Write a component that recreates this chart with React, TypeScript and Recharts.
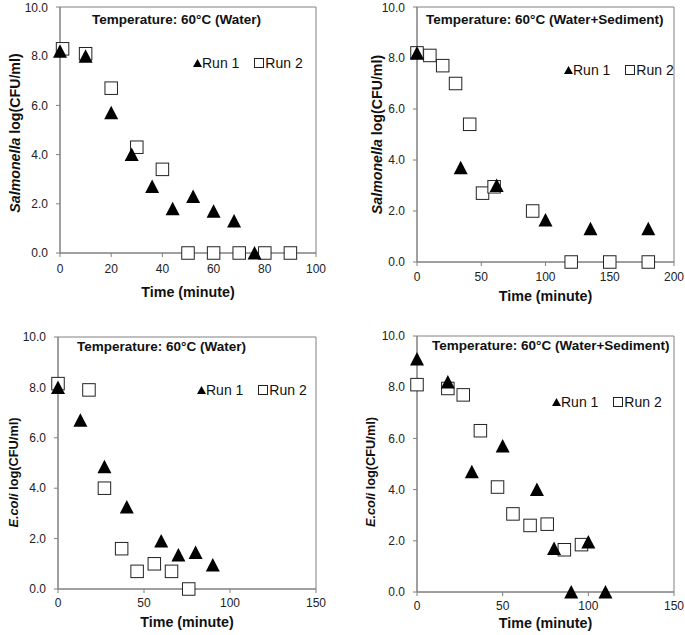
import React from "react";
import {
  ScatterChart,
  Scatter,
  XAxis,
  YAxis,
  ReferenceArea,
  Label,
} from "recharts";

const FONT = "'Liberation Sans', Arial, sans-serif";
const AXIS = "#808080";

// Salmonella, water
const salWaterRun1X = [0, 10, 20, 28, 36, 44, 52, 60, 68, 76];
const salWaterRun1Y = [8.2, 8.0, 5.7, 4.0, 2.7, 1.8, 2.3, 1.7, 1.3, 0];
const salWaterRun2X = [1, 10, 20, 30, 40, 50, 60, 70, 80, 90];
const salWaterRun2Y = [8.3, 8.1, 6.7, 4.3, 3.4, 0, 0, 0, 0, 0];

// Salmonella, water + sediment
const salSedRun1X = [0, 34, 62, 100, 135, 180];
const salSedRun1Y = [8.2, 3.7, 3.0, 1.65, 1.3, 1.3];
const salSedRun2X = [0, 10, 20, 30, 41, 51, 60, 90, 120, 150, 180];
const salSedRun2Y = [8.2, 8.1, 7.7, 7.0, 5.4, 2.7, 2.95, 2.0, 0, 0, 0];

// E.coli, water
const ecoWaterRun1X = [0, 13, 27, 40, 60, 70, 80, 90];
const ecoWaterRun1Y = [8.0, 6.7, 4.85, 3.25, 1.9, 1.35, 1.45, 0.95];
const ecoWaterRun2X = [0, 18, 27, 37, 46, 56, 66, 76];
const ecoWaterRun2Y = [8.15, 7.9, 4.0, 1.6, 0.7, 1.0, 0.7, 0];

// E.coli, water + sediment
const ecoSedRun1X = [0, 18, 32, 50, 70, 80, 90, 100, 110];
const ecoSedRun1Y = [9.1, 8.2, 4.7, 5.7, 4.0, 1.7, 0, 1.95, 0];
const ecoSedRun2X = [0, 18, 27, 37, 47, 56, 66, 76, 86, 96];
const ecoSedRun2Y = [8.1, 7.95, 7.7, 6.3, 4.1, 3.05, 2.6, 2.65, 1.65, 1.85];

const yTicks = [0, 2, 4, 6, 8, 10];
const xTicks100 = [0, 20, 40, 60, 80, 100];
const xTicks200 = [0, 50, 100, 150, 200];
const xTicks150 = [0, 50, 100, 150];

const toPoints = (xs: number[], ys: number[]) =>
  xs.map((x, i) => ({ x, y: ys[i] }));

const Triangle = (props: any) => {
  const { cx, cy } = props;
  if (cx == null || cy == null) return null;
  return (
    <polygon
      points={`${cx},${cy - 7} ${cx + 7},${cy + 6.5} ${cx - 7},${cy + 6.5}`}
      fill="#000"
    />
  );
};

const Square = (props: any) => {
  const { cx, cy } = props;
  if (cx == null || cy == null) return null;
  return (
    <rect
      x={cx - 6.25}
      y={cy - 6.25}
      width={12.5}
      height={12.5}
      fill="#fff"
      stroke="#222"
      strokeWidth={1}
    />
  );
};

interface PanelProps {
  left: number;
  top: number;
  plotLeft: number;
  plotTop: number;
  plotRight: number;
  plotBottom: number;
  xMax: number;
  xTicks: number[];
  xTickMargin: number;
  xLabelDy: number;
  yLabelDx: number;
  yLabelDy: number;
  yLabelSize: number;
  organism: string;
  title: string;
  titleX: number;
  titleY: number;
  legendX: number;
  legendY: number;
  run1: { x: number; y: number }[];
  run2: { x: number; y: number }[];
}

function Panel(p: PanelProps) {
  const W = 340;
  const H = 315;
  const xAxisH = 40;
  const margin = {
    top: p.plotTop,
    right: W - p.plotRight,
    left: 0,
    bottom: H - p.plotBottom - xAxisH,
  };
  const tickStyle = { fontSize: 12, fill: "#222", fontFamily: FONT };

  const yLabel = (props: any) => {
    const vb = props.viewBox;
    const x = vb.x + vb.width - p.yLabelDx;
    const y = vb.y + vb.height / 2 + p.yLabelDy;
    return (
      <text
        x={x}
        y={y}
        transform={`rotate(-90, ${x}, ${y})`}
        textAnchor="middle"
        dominantBaseline="central"
        fontFamily={FONT}
        fontSize={p.yLabelSize}
        fontWeight="bold"
        fill="#111"
      >
        <tspan fontStyle="italic">{p.organism}</tspan>
        <tspan> log(CFU/ml)</tspan>
      </text>
    );
  };

  const xLabel = (props: any) => {
    const vb = props.viewBox;
    return (
      <text
        x={vb.x + vb.width / 2}
        y={vb.y + p.xLabelDy}
        textAnchor="middle"
        dominantBaseline="central"
        fontFamily={FONT}
        fontSize={14.3}
        fontWeight="bold"
        fill="#111"
      >
        Time (minute)
      </text>
    );
  };

  return (
    <div
      style={{ position: "absolute", left: p.left, top: p.top, width: W, height: H }}
    >
      <ScatterChart width={W} height={H} margin={margin}>
        <XAxis
          type="number"
          dataKey="x"
          domain={[0, p.xMax]}
          ticks={p.xTicks}
          height={xAxisH}
          tick={tickStyle}
          tickSize={4}
          tickMargin={p.xTickMargin}
          stroke={AXIS}
          tickLine={{ stroke: AXIS }}
        >
          <Label content={xLabel} />
        </XAxis>
        <YAxis
          type="number"
          dataKey="y"
          domain={[0, 10]}
          ticks={yTicks}
          width={p.plotLeft}
          tick={tickStyle}
          tickSize={4}
          tickMargin={8}
          tickFormatter={(v: number) => v.toFixed(1)}
          stroke={AXIS}
          tickLine={{ stroke: AXIS }}
        >
          <Label content={yLabel} />
        </YAxis>
        <ReferenceArea
          x1={0}
          x2={p.xMax}
          y1={0}
          y2={10}
          fill="none"
          fillOpacity={0}
          stroke={AXIS}
          strokeOpacity={1}
        />
        {/* Run 2 first so the triangles sit on top, as in the original */}
        <Scatter
          name="Run 2"
          data={p.run2}
          shape={Square}
          isAnimationActive={false}
        />
        <Scatter
          name="Run 1"
          data={p.run1}
          shape={Triangle}
          isAnimationActive={false}
        />
      </ScatterChart>
      <div
        style={{
          position: "absolute",
          left: p.titleX,
          top: p.titleY - 8,
          fontFamily: FONT,
          fontSize: 13.5,
          fontWeight: "bold",
          color: "#111",
          whiteSpace: "nowrap",
          lineHeight: "16px",
        }}
      >
        {p.title}
      </div>
      <div
        style={{
          position: "absolute",
          left: p.legendX,
          top: p.legendY - 8,
          fontFamily: FONT,
          fontSize: 14,
          color: "#111",
          whiteSpace: "nowrap",
          lineHeight: "16px",
          display: "flex",
          alignItems: "center",
        }}
      >
        <svg width={9} height={8}>
          <polygon points="4.5,0 9,8 0,8" fill="#000" />
        </svg>
        <span>Run 1</span>
        <svg width={10} height={10} style={{ marginLeft: 15, marginRight: 1 }}>
          <rect x={0.5} y={0.5} width={9} height={9} fill="#fff" stroke="#222" />
        </svg>
        <span>Run 2</span>
      </div>
    </div>
  );
}

export default function App() {
  return (
    <div
      style={{
        position: "absolute",
        left: 0,
        top: 0,
        width: 685,
        height: 635,
        background: "#fff",
      }}
    >
      <Panel
        left={0}
        top={0}
        plotLeft={60}
        plotTop={7}
        plotRight={316}
        plotBottom={253}
        xMax={100}
        xTicks={xTicks100}
        xTickMargin={7}
        xLabelDy={39}
        yLabelDx={45}
        yLabelDy={3}
        yLabelSize={14.2}
        organism="Salmonella"
        title="Temperature: 60°C (Water)"
        titleX={92}
        titleY={20}
        legendX={193}
        legendY={63}
        run1={toPoints(salWaterRun1X, salWaterRun1Y)}
        run2={toPoints(salWaterRun2X, salWaterRun2Y)}
      />
      <Panel
        left={345}
        top={0}
        plotLeft={72}
        plotTop={7}
        plotRight={329}
        plotBottom={262}
        xMax={200}
        xTicks={xTicks200}
        xTickMargin={6}
        xLabelDy={34}
        yLabelDx={40}
        yLabelDy={0}
        yLabelSize={14.2}
        organism="Salmonella"
        title="Temperature: 60°C (Water+Sediment)"
        titleX={81}
        titleY={20}
        legendX={219}
        legendY={70}
        run1={toPoints(salSedRun1X, salSedRun1Y)}
        run2={toPoints(salSedRun2X, salSedRun2Y)}
      />
      <Panel
        left={0}
        top={320}
        plotLeft={58}
        plotTop={17}
        plotRight={316}
        plotBottom={269}
        xMax={150}
        xTicks={xTicks150}
        xTickMargin={5}
        xLabelDy={33}
        yLabelDx={45}
        yLabelDy={9.5}
        yLabelSize={12.8}
        organism="E.coli"
        title="Temperature: 60°C (Water)"
        titleX={77}
        titleY={27}
        legendX={197}
        legendY={70}
        run1={toPoints(ecoWaterRun1X, ecoWaterRun1Y)}
        run2={toPoints(ecoWaterRun2X, ecoWaterRun2Y)}
      />
      <Panel
        left={345}
        top={320}
        plotLeft={72}
        plotTop={16}
        plotRight={329}
        plotBottom={272}
        xMax={150}
        xTicks={xTicks150}
        xTickMargin={5}
        xLabelDy={31}
        yLabelDx={47}
        yLabelDy={8}
        yLabelSize={12.8}
        organism="E.coli"
        title="Temperature: 60°C (Water+Sediment)"
        titleX={87}
        titleY={26}
        legendX={207}
        legendY={82}
        run1={toPoints(ecoSedRun1X, ecoSedRun1Y)}
        run2={toPoints(ecoSedRun2X, ecoSedRun2Y)}
      />
    </div>
  );
}
